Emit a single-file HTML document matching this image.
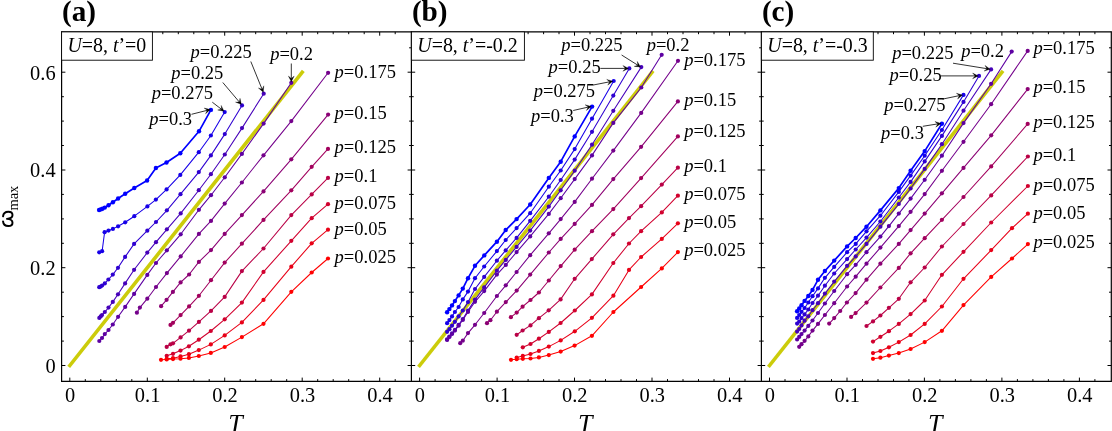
<!DOCTYPE html>
<html><head><meta charset="utf-8"><title>omega_max vs T</title>
<style>html,body{margin:0;padding:0;background:#fff}svg{display:block;will-change:transform;opacity:0.999}text{font-family:"Liberation Serif",serif;fill:#000}.i{font-style:italic}</style></head><body>
<svg width="1112" height="431" viewBox="0 0 1112 431">
<rect width="1112" height="431" fill="#fff"/>
<line x1="69.8" y1="365.5" x2="302.2" y2="72.2" stroke="#cccc0a" stroke-width="3.6" stroke-linecap="square"/>
<polyline fill="none" stroke="rgb(0,0,255)" stroke-width="1.70" stroke-linejoin="round" points="99.1,210.0 100.7,209.4 102.4,208.8 104.8,207.6 108.5,205.2 112.9,202.3 118.1,198.5 125.2,193.8 134.3,188.0 147.1,180.5 155.9,168.0 166.5,162.5 180.3,153.2 199.0,131.3 210.9,109.9"/>
<g fill="rgb(0,0,255)"><circle cx="99.1" cy="210.0" r="2.20"/><circle cx="100.7" cy="209.4" r="2.20"/><circle cx="102.4" cy="208.8" r="2.20"/><circle cx="104.8" cy="207.6" r="2.20"/><circle cx="108.5" cy="205.2" r="2.20"/><circle cx="112.9" cy="202.3" r="2.20"/><circle cx="118.1" cy="198.5" r="2.20"/><circle cx="125.2" cy="193.8" r="2.20"/><circle cx="134.3" cy="188.0" r="2.20"/><circle cx="147.1" cy="180.5" r="2.20"/><circle cx="155.9" cy="168.0" r="2.20"/><circle cx="166.5" cy="162.5" r="2.20"/><circle cx="180.3" cy="153.2" r="2.20"/><circle cx="199.0" cy="131.3" r="2.20"/><circle cx="210.9" cy="109.9" r="2.20"/></g>
<polyline fill="none" stroke="rgb(23,0,232)" stroke-width="1.05" stroke-linejoin="round" points="99.2,252.3 102.1,251.2 104.6,232.2 108.5,230.6 112.9,228.9 118.1,226.3 125.2,222.3 134.3,216.2 147.4,206.4 155.9,199.6 166.6,189.4 180.3,174.9 198.8,152.2 210.9,135.5 224.7,112.1"/>
<g fill="rgb(23,0,232)"><circle cx="99.2" cy="252.3" r="2.10"/><circle cx="102.1" cy="251.2" r="2.10"/><circle cx="104.6" cy="232.2" r="2.10"/><circle cx="108.5" cy="230.6" r="2.10"/><circle cx="112.9" cy="228.9" r="2.10"/><circle cx="118.1" cy="226.3" r="2.10"/><circle cx="125.2" cy="222.3" r="2.10"/><circle cx="134.3" cy="216.2" r="2.10"/><circle cx="147.4" cy="206.4" r="2.10"/><circle cx="155.9" cy="199.6" r="2.10"/><circle cx="166.6" cy="189.4" r="2.10"/><circle cx="180.3" cy="174.9" r="2.10"/><circle cx="198.8" cy="152.2" r="2.10"/><circle cx="210.9" cy="135.5" r="2.10"/><circle cx="224.7" cy="112.1" r="2.10"/></g>
<polyline fill="none" stroke="rgb(46,0,209)" stroke-width="1.05" stroke-linejoin="round" points="99.2,287.2 100.7,286.6 102.1,285.5 104.8,283.4 108.4,279.5 112.8,274.6 118.0,267.8 125.1,256.9 134.1,243.9 147.3,230.7 156.0,222.0 166.9,210.3 180.5,194.2 198.8,172.1 210.9,155.4 224.8,134.1 242.0,105.4"/>
<g fill="rgb(46,0,209)"><circle cx="99.2" cy="287.2" r="2.10"/><circle cx="100.7" cy="286.6" r="2.10"/><circle cx="102.1" cy="285.5" r="2.10"/><circle cx="104.8" cy="283.4" r="2.10"/><circle cx="108.4" cy="279.5" r="2.10"/><circle cx="112.8" cy="274.6" r="2.10"/><circle cx="118.0" cy="267.8" r="2.10"/><circle cx="125.1" cy="256.9" r="2.10"/><circle cx="134.1" cy="243.9" r="2.10"/><circle cx="147.3" cy="230.7" r="2.10"/><circle cx="156.0" cy="222.0" r="2.10"/><circle cx="166.9" cy="210.3" r="2.10"/><circle cx="180.5" cy="194.2" r="2.10"/><circle cx="198.8" cy="172.1" r="2.10"/><circle cx="210.9" cy="155.4" r="2.10"/><circle cx="224.8" cy="134.1" r="2.10"/><circle cx="242.0" cy="105.4" r="2.10"/></g>
<polyline fill="none" stroke="rgb(70,0,185)" stroke-width="1.05" stroke-linejoin="round" points="99.3,317.9 100.7,316.4 102.0,315.1 104.8,312.0 108.5,307.6 112.8,301.9 118.0,294.3 125.1,283.4 134.1,269.8 147.3,252.6 156.0,242.2 166.9,229.3 180.7,213.4 198.8,190.2 210.9,174.2 224.8,154.5 242.0,128.1 263.7,93.7"/>
<g fill="rgb(70,0,185)"><circle cx="99.3" cy="317.9" r="2.10"/><circle cx="100.7" cy="316.4" r="2.10"/><circle cx="102.0" cy="315.1" r="2.10"/><circle cx="104.8" cy="312.0" r="2.10"/><circle cx="108.5" cy="307.6" r="2.10"/><circle cx="112.8" cy="301.9" r="2.10"/><circle cx="118.0" cy="294.3" r="2.10"/><circle cx="125.1" cy="283.4" r="2.10"/><circle cx="134.1" cy="269.8" r="2.10"/><circle cx="147.3" cy="252.6" r="2.10"/><circle cx="156.0" cy="242.2" r="2.10"/><circle cx="166.9" cy="229.3" r="2.10"/><circle cx="180.7" cy="213.4" r="2.10"/><circle cx="198.8" cy="190.2" r="2.10"/><circle cx="210.9" cy="174.2" r="2.10"/><circle cx="224.8" cy="154.5" r="2.10"/><circle cx="242.0" cy="128.1" r="2.10"/><circle cx="263.7" cy="93.7" r="2.10"/></g>
<polyline fill="none" stroke="rgb(93,0,162)" stroke-width="1.05" stroke-linejoin="round" points="99.3,341.0 102.0,338.0 104.8,334.1 108.5,330.0 112.8,324.5 118.1,316.8 125.2,306.9 134.1,293.9 147.3,274.9 156.0,263.0 166.9,250.3 180.7,234.3 198.9,209.8 211.0,195.2 224.8,177.3 241.9,153.9 263.6,123.6 291.3,82.8"/>
<g fill="rgb(93,0,162)"><circle cx="99.3" cy="341.0" r="2.10"/><circle cx="102.0" cy="338.0" r="2.10"/><circle cx="104.8" cy="334.1" r="2.10"/><circle cx="108.5" cy="330.0" r="2.10"/><circle cx="112.8" cy="324.5" r="2.10"/><circle cx="118.1" cy="316.8" r="2.10"/><circle cx="125.2" cy="306.9" r="2.10"/><circle cx="134.1" cy="293.9" r="2.10"/><circle cx="147.3" cy="274.9" r="2.10"/><circle cx="156.0" cy="263.0" r="2.10"/><circle cx="166.9" cy="250.3" r="2.10"/><circle cx="180.7" cy="234.3" r="2.10"/><circle cx="198.9" cy="209.8" r="2.10"/><circle cx="211.0" cy="195.2" r="2.10"/><circle cx="224.8" cy="177.3" r="2.10"/><circle cx="241.9" cy="153.9" r="2.10"/><circle cx="263.6" cy="123.6" r="2.10"/><circle cx="291.3" cy="82.8" r="2.10"/></g>
<polyline fill="none" stroke="rgb(116,0,139)" stroke-width="1.05" stroke-linejoin="round" points="136.9,312.7 139.9,307.6 147.3,298.7 156.0,287.0 166.9,273.1 180.7,256.4 198.9,233.9 211.0,220.9 224.7,203.6 241.9,182.5 263.5,155.3 291.3,121.1 328.1,72.8"/>
<g fill="rgb(116,0,139)"><circle cx="136.9" cy="312.7" r="2.10"/><circle cx="139.9" cy="307.6" r="2.10"/><circle cx="147.3" cy="298.7" r="2.10"/><circle cx="156.0" cy="287.0" r="2.10"/><circle cx="166.9" cy="273.1" r="2.10"/><circle cx="180.7" cy="256.4" r="2.10"/><circle cx="198.9" cy="233.9" r="2.10"/><circle cx="211.0" cy="220.9" r="2.10"/><circle cx="224.7" cy="203.6" r="2.10"/><circle cx="241.9" cy="182.5" r="2.10"/><circle cx="263.5" cy="155.3" r="2.10"/><circle cx="291.3" cy="121.1" r="2.10"/><circle cx="328.1" cy="72.8" r="2.10"/></g>
<polyline fill="none" stroke="rgb(139,0,116)" stroke-width="1.05" stroke-linejoin="round" points="161.1,306.2 166.6,299.8 172.9,291.9 180.6,282.4 189.1,274.5 198.9,261.9 211.0,250.1 224.7,233.9 241.9,215.1 263.5,191.4 291.3,159.3 328.1,114.6"/>
<g fill="rgb(139,0,116)"><circle cx="161.1" cy="306.2" r="2.10"/><circle cx="166.6" cy="299.8" r="2.10"/><circle cx="172.9" cy="291.9" r="2.10"/><circle cx="180.6" cy="282.4" r="2.10"/><circle cx="189.1" cy="274.5" r="2.10"/><circle cx="198.9" cy="261.9" r="2.10"/><circle cx="211.0" cy="250.1" r="2.10"/><circle cx="224.7" cy="233.9" r="2.10"/><circle cx="241.9" cy="215.1" r="2.10"/><circle cx="263.5" cy="191.4" r="2.10"/><circle cx="291.3" cy="159.3" r="2.10"/><circle cx="328.1" cy="114.6" r="2.10"/></g>
<polyline fill="none" stroke="rgb(162,0,93)" stroke-width="1.05" stroke-linejoin="round" points="170.5,324.9 173.0,322.8 180.6,315.1 189.1,306.4 198.9,295.8 211.0,280.2 224.7,262.6 241.9,243.7 263.5,219.9 291.3,190.3 311.7,166.8 328.0,148.9"/>
<g fill="rgb(162,0,93)"><circle cx="170.5" cy="324.9" r="2.10"/><circle cx="173.0" cy="322.8" r="2.10"/><circle cx="180.6" cy="315.1" r="2.10"/><circle cx="189.1" cy="306.4" r="2.10"/><circle cx="198.9" cy="295.8" r="2.10"/><circle cx="211.0" cy="280.2" r="2.10"/><circle cx="224.7" cy="262.6" r="2.10"/><circle cx="241.9" cy="243.7" r="2.10"/><circle cx="263.5" cy="219.9" r="2.10"/><circle cx="291.3" cy="190.3" r="2.10"/><circle cx="311.7" cy="166.8" r="2.10"/><circle cx="328.0" cy="148.9" r="2.10"/></g>
<polyline fill="none" stroke="rgb(185,0,70)" stroke-width="1.05" stroke-linejoin="round" points="166.7,346.9 170.5,344.3 173.0,343.3 180.6,337.4 189.0,330.7 198.9,321.9 211.0,310.9 224.7,296.9 241.9,271.1 263.5,248.5 291.3,215.1 311.7,194.4 328.0,177.9"/>
<g fill="rgb(185,0,70)"><circle cx="166.7" cy="346.9" r="2.10"/><circle cx="170.5" cy="344.3" r="2.10"/><circle cx="173.0" cy="343.3" r="2.10"/><circle cx="180.6" cy="337.4" r="2.10"/><circle cx="189.0" cy="330.7" r="2.10"/><circle cx="198.9" cy="321.9" r="2.10"/><circle cx="211.0" cy="310.9" r="2.10"/><circle cx="224.7" cy="296.9" r="2.10"/><circle cx="241.9" cy="271.1" r="2.10"/><circle cx="263.5" cy="248.5" r="2.10"/><circle cx="291.3" cy="215.1" r="2.10"/><circle cx="311.7" cy="194.4" r="2.10"/><circle cx="328.0" cy="177.9" r="2.10"/></g>
<polyline fill="none" stroke="rgb(209,0,46)" stroke-width="1.05" stroke-linejoin="round" points="166.7,355.8 173.0,353.8 180.5,350.6 188.9,346.3 198.8,339.7 210.8,331.0 224.7,319.3 241.9,302.6 263.5,271.9 291.3,240.8 311.7,218.2 328.0,204.2"/>
<g fill="rgb(209,0,46)"><circle cx="166.7" cy="355.8" r="2.10"/><circle cx="173.0" cy="353.8" r="2.10"/><circle cx="180.5" cy="350.6" r="2.10"/><circle cx="188.9" cy="346.3" r="2.10"/><circle cx="198.8" cy="339.7" r="2.10"/><circle cx="210.8" cy="331.0" r="2.10"/><circle cx="224.7" cy="319.3" r="2.10"/><circle cx="241.9" cy="302.6" r="2.10"/><circle cx="263.5" cy="271.9" r="2.10"/><circle cx="291.3" cy="240.8" r="2.10"/><circle cx="311.7" cy="218.2" r="2.10"/><circle cx="328.0" cy="204.2" r="2.10"/></g>
<polyline fill="none" stroke="rgb(232,0,23)" stroke-width="1.05" stroke-linejoin="round" points="166.7,358.8 173.0,358.2 180.5,356.4 188.9,354.2 198.8,350.1 210.8,344.4 224.7,335.4 241.9,322.4 263.5,299.9 291.3,266.7 311.7,243.3 328.0,229.7"/>
<g fill="rgb(232,0,23)"><circle cx="166.7" cy="358.8" r="2.10"/><circle cx="173.0" cy="358.2" r="2.10"/><circle cx="180.5" cy="356.4" r="2.10"/><circle cx="188.9" cy="354.2" r="2.10"/><circle cx="198.8" cy="350.1" r="2.10"/><circle cx="210.8" cy="344.4" r="2.10"/><circle cx="224.7" cy="335.4" r="2.10"/><circle cx="241.9" cy="322.4" r="2.10"/><circle cx="263.5" cy="299.9" r="2.10"/><circle cx="291.3" cy="266.7" r="2.10"/><circle cx="311.7" cy="243.3" r="2.10"/><circle cx="328.0" cy="229.7" r="2.10"/></g>
<polyline fill="none" stroke="rgb(255,0,0)" stroke-width="1.05" stroke-linejoin="round" points="161.0,359.8 166.7,359.4 173.0,359.1 180.5,358.7 188.9,357.9 198.8,356.0 210.8,352.9 224.7,347.0 241.9,337.1 263.5,323.8 291.3,291.8 311.7,272.5 328.0,258.5"/>
<g fill="rgb(255,0,0)"><circle cx="161.0" cy="359.8" r="2.10"/><circle cx="166.7" cy="359.4" r="2.10"/><circle cx="173.0" cy="359.1" r="2.10"/><circle cx="180.5" cy="358.7" r="2.10"/><circle cx="188.9" cy="357.9" r="2.10"/><circle cx="198.8" cy="356.0" r="2.10"/><circle cx="210.8" cy="352.9" r="2.10"/><circle cx="224.7" cy="347.0" r="2.10"/><circle cx="241.9" cy="337.1" r="2.10"/><circle cx="263.5" cy="323.8" r="2.10"/><circle cx="291.3" cy="291.8" r="2.10"/><circle cx="311.7" cy="272.5" r="2.10"/><circle cx="328.0" cy="258.5" r="2.10"/></g>
<text x="334.6" y="77.7" font-size="18.5" text-anchor="start"><tspan class="i">p</tspan>=0.175</text>
<text x="334.6" y="119.4" font-size="18.5" text-anchor="start"><tspan class="i">p</tspan>=0.15</text>
<text x="334.6" y="153.0" font-size="18.5" text-anchor="start"><tspan class="i">p</tspan>=0.125</text>
<text x="334.6" y="182.4" font-size="18.5" text-anchor="start"><tspan class="i">p</tspan>=0.1</text>
<text x="334.6" y="208.9" font-size="18.5" text-anchor="start"><tspan class="i">p</tspan>=0.075</text>
<text x="334.6" y="234.5" font-size="18.5" text-anchor="start"><tspan class="i">p</tspan>=0.05</text>
<text x="334.6" y="262.7" font-size="18.5" text-anchor="start"><tspan class="i">p</tspan>=0.025</text>
<text x="149.3" y="125.0" font-size="18.5" text-anchor="start"><tspan class="i">p</tspan>=0.3</text>
<path d="M191.5 114.3L207.3 110.3" fill="none" stroke="#000" stroke-width="0.8"/>
<path d="M210.4 109.6L205.5 113.8L207.3 110.3L204.1 108.1Z" fill="#000" stroke="#000" stroke-width="0.3" stroke-linejoin="miter"/>
<text x="151.7" y="99.4" font-size="18.5" text-anchor="start"><tspan class="i">p</tspan>=0.275</text>
<path d="M212.3 102.2L221.5 109.3" fill="none" stroke="#000" stroke-width="0.8"/>
<path d="M224.0 111.2L217.7 110.0L221.5 109.3L221.2 105.4Z" fill="#000" stroke="#000" stroke-width="0.3" stroke-linejoin="miter"/>
<text x="171.3" y="78.6" font-size="18.5" text-anchor="start"><tspan class="i">p</tspan>=0.25</text>
<path d="M222.8 82.5L239.4 102.1" fill="none" stroke="#000" stroke-width="0.8"/>
<path d="M241.4 104.6L235.5 102.1L239.4 102.1L240.0 98.3Z" fill="#000" stroke="#000" stroke-width="0.3" stroke-linejoin="miter"/>
<text x="190.5" y="58.2" font-size="18.5" text-anchor="start"><tspan class="i">p</tspan>=0.225</text>
<path d="M250.8 61.5L262.1 89.3" fill="none" stroke="#000" stroke-width="0.8"/>
<path d="M263.3 92.2L258.4 88.0L262.1 89.3L263.8 85.8Z" fill="#000" stroke="#000" stroke-width="0.3" stroke-linejoin="miter"/>
<text x="270.2" y="59.6" font-size="18.5" text-anchor="start"><tspan class="i">p</tspan>=0.2</text>
<path d="M291.3 63.5L291.3 78.6" fill="none" stroke="#000" stroke-width="0.8"/>
<path d="M291.3 81.8L288.4 76.1L291.3 78.6L294.2 76.1Z" fill="#000" stroke="#000" stroke-width="0.3" stroke-linejoin="miter"/>
<line x1="419.6" y1="365.5" x2="652.0" y2="72.2" stroke="#cccc0a" stroke-width="3.6" stroke-linecap="square"/>
<polyline fill="none" stroke="rgb(0,0,255)" stroke-width="1.70" stroke-linejoin="round" points="447.1,312.2 449.4,309.1 452.0,305.4 454.9,301.1 458.6,295.4 462.8,288.6 468.0,278.2 475.0,265.8 484.3,255.4 496.9,241.7 505.7,230.0 516.6,219.1 530.2,204.5 548.8,177.9 560.7,161.7 574.7,136.4 592.1,106.6"/>
<g fill="rgb(0,0,255)"><circle cx="447.1" cy="312.2" r="2.20"/><circle cx="449.4" cy="309.1" r="2.20"/><circle cx="452.0" cy="305.4" r="2.20"/><circle cx="454.9" cy="301.1" r="2.20"/><circle cx="458.6" cy="295.4" r="2.20"/><circle cx="462.8" cy="288.6" r="2.20"/><circle cx="468.0" cy="278.2" r="2.20"/><circle cx="475.0" cy="265.8" r="2.20"/><circle cx="484.3" cy="255.4" r="2.20"/><circle cx="496.9" cy="241.7" r="2.20"/><circle cx="505.7" cy="230.0" r="2.20"/><circle cx="516.6" cy="219.1" r="2.20"/><circle cx="530.2" cy="204.5" r="2.20"/><circle cx="548.8" cy="177.9" r="2.20"/><circle cx="560.7" cy="161.7" r="2.20"/><circle cx="574.7" cy="136.4" r="2.20"/><circle cx="592.1" cy="106.6" r="2.20"/></g>
<polyline fill="none" stroke="rgb(23,0,232)" stroke-width="1.05" stroke-linejoin="round" points="447.1,323.2 449.4,320.1 452.0,316.4 454.9,312.0 458.6,307.0 462.8,299.4 468.0,291.6 475.0,278.2 484.2,266.5 496.9,251.1 505.7,240.0 516.6,228.1 530.2,213.2 548.8,186.7 560.7,170.5 574.7,149.1 592.0,118.7 613.7,81.0"/>
<g fill="rgb(23,0,232)"><circle cx="447.1" cy="323.2" r="2.10"/><circle cx="449.4" cy="320.1" r="2.10"/><circle cx="452.0" cy="316.4" r="2.10"/><circle cx="454.9" cy="312.0" r="2.10"/><circle cx="458.6" cy="307.0" r="2.10"/><circle cx="462.8" cy="299.4" r="2.10"/><circle cx="468.0" cy="291.6" r="2.10"/><circle cx="475.0" cy="278.2" r="2.10"/><circle cx="484.2" cy="266.5" r="2.10"/><circle cx="496.9" cy="251.1" r="2.10"/><circle cx="505.7" cy="240.0" r="2.10"/><circle cx="516.6" cy="228.1" r="2.10"/><circle cx="530.2" cy="213.2" r="2.10"/><circle cx="548.8" cy="186.7" r="2.10"/><circle cx="560.7" cy="170.5" r="2.10"/><circle cx="574.7" cy="149.1" r="2.10"/><circle cx="592.0" cy="118.7" r="2.10"/><circle cx="613.7" cy="81.0" r="2.10"/></g>
<polyline fill="none" stroke="rgb(46,0,209)" stroke-width="1.05" stroke-linejoin="round" points="447.1,331.8 449.4,329.2 452.0,325.7 454.9,321.8 458.6,316.4 462.8,310.5 468.0,302.1 475.0,289.0 484.2,276.9 496.9,260.7 505.7,250.4 516.6,237.9 530.2,220.8 548.8,196.7 560.7,180.0 574.7,159.6 592.0,131.8 613.3,95.6 629.3,68.4"/>
<g fill="rgb(46,0,209)"><circle cx="447.1" cy="331.8" r="2.10"/><circle cx="449.4" cy="329.2" r="2.10"/><circle cx="452.0" cy="325.7" r="2.10"/><circle cx="454.9" cy="321.8" r="2.10"/><circle cx="458.6" cy="316.4" r="2.10"/><circle cx="462.8" cy="310.5" r="2.10"/><circle cx="468.0" cy="302.1" r="2.10"/><circle cx="475.0" cy="289.0" r="2.10"/><circle cx="484.2" cy="276.9" r="2.10"/><circle cx="496.9" cy="260.7" r="2.10"/><circle cx="505.7" cy="250.4" r="2.10"/><circle cx="516.6" cy="237.9" r="2.10"/><circle cx="530.2" cy="220.8" r="2.10"/><circle cx="548.8" cy="196.7" r="2.10"/><circle cx="560.7" cy="180.0" r="2.10"/><circle cx="574.7" cy="159.6" r="2.10"/><circle cx="592.0" cy="131.8" r="2.10"/><circle cx="613.3" cy="95.6" r="2.10"/><circle cx="629.3" cy="68.4" r="2.10"/></g>
<polyline fill="none" stroke="rgb(70,0,185)" stroke-width="1.05" stroke-linejoin="round" points="447.1,339.4 449.4,336.5 452.0,333.4 454.9,329.9 458.6,324.9 462.8,319.0 468.0,310.6 475.0,299.6 484.2,287.4 496.9,270.7 505.8,259.9 516.6,246.9 530.2,230.6 548.8,206.6 560.7,190.3 574.7,170.7 592.0,144.7 613.3,110.8 641.3,67.1"/>
<g fill="rgb(70,0,185)"><circle cx="447.1" cy="339.4" r="2.10"/><circle cx="449.4" cy="336.5" r="2.10"/><circle cx="452.0" cy="333.4" r="2.10"/><circle cx="454.9" cy="329.9" r="2.10"/><circle cx="458.6" cy="324.9" r="2.10"/><circle cx="462.8" cy="319.0" r="2.10"/><circle cx="468.0" cy="310.6" r="2.10"/><circle cx="475.0" cy="299.6" r="2.10"/><circle cx="484.2" cy="287.4" r="2.10"/><circle cx="496.9" cy="270.7" r="2.10"/><circle cx="505.8" cy="259.9" r="2.10"/><circle cx="516.6" cy="246.9" r="2.10"/><circle cx="530.2" cy="230.6" r="2.10"/><circle cx="548.8" cy="206.6" r="2.10"/><circle cx="560.7" cy="190.3" r="2.10"/><circle cx="574.7" cy="170.7" r="2.10"/><circle cx="592.0" cy="144.7" r="2.10"/><circle cx="613.3" cy="110.8" r="2.10"/><circle cx="641.3" cy="67.1" r="2.10"/></g>
<polyline fill="none" stroke="rgb(93,0,162)" stroke-width="1.05" stroke-linejoin="round" points="447.1,339.9 449.4,337.0 452.0,334.0 454.9,330.6 458.6,325.7 462.8,320.0 468.0,312.0 475.0,301.8 484.2,291.1 496.9,274.6 505.8,264.9 516.6,252.1 530.2,236.4 548.8,213.9 560.7,198.2 574.7,179.1 592.0,155.4 613.3,122.9 641.3,87.5 661.7,54.8"/>
<g fill="rgb(93,0,162)"><circle cx="447.1" cy="339.9" r="2.10"/><circle cx="449.4" cy="337.0" r="2.10"/><circle cx="452.0" cy="334.0" r="2.10"/><circle cx="454.9" cy="330.6" r="2.10"/><circle cx="458.6" cy="325.7" r="2.10"/><circle cx="462.8" cy="320.0" r="2.10"/><circle cx="468.0" cy="312.0" r="2.10"/><circle cx="475.0" cy="301.8" r="2.10"/><circle cx="484.2" cy="291.1" r="2.10"/><circle cx="496.9" cy="274.6" r="2.10"/><circle cx="505.8" cy="264.9" r="2.10"/><circle cx="516.6" cy="252.1" r="2.10"/><circle cx="530.2" cy="236.4" r="2.10"/><circle cx="548.8" cy="213.9" r="2.10"/><circle cx="560.7" cy="198.2" r="2.10"/><circle cx="574.7" cy="179.1" r="2.10"/><circle cx="592.0" cy="155.4" r="2.10"/><circle cx="613.3" cy="122.9" r="2.10"/><circle cx="641.3" cy="87.5" r="2.10"/><circle cx="661.7" cy="54.8" r="2.10"/></g>
<polyline fill="none" stroke="rgb(116,0,139)" stroke-width="1.05" stroke-linejoin="round" points="460.2,343.2 462.8,340.7 468.0,333.1 475.0,324.8 484.2,313.0 496.9,296.0 505.8,285.3 516.6,272.0 530.2,255.2 548.8,233.3 560.7,219.1 574.7,201.9 592.0,178.7 613.3,150.6 641.2,112.9 678.0,60.8"/>
<g fill="rgb(116,0,139)"><circle cx="460.2" cy="343.2" r="2.10"/><circle cx="462.8" cy="340.7" r="2.10"/><circle cx="468.0" cy="333.1" r="2.10"/><circle cx="475.0" cy="324.8" r="2.10"/><circle cx="484.2" cy="313.0" r="2.10"/><circle cx="496.9" cy="296.0" r="2.10"/><circle cx="505.8" cy="285.3" r="2.10"/><circle cx="516.6" cy="272.0" r="2.10"/><circle cx="530.2" cy="255.2" r="2.10"/><circle cx="548.8" cy="233.3" r="2.10"/><circle cx="560.7" cy="219.1" r="2.10"/><circle cx="574.7" cy="201.9" r="2.10"/><circle cx="592.0" cy="178.7" r="2.10"/><circle cx="613.3" cy="150.6" r="2.10"/><circle cx="641.2" cy="112.9" r="2.10"/><circle cx="678.0" cy="60.8" r="2.10"/></g>
<polyline fill="none" stroke="rgb(139,0,116)" stroke-width="1.05" stroke-linejoin="round" points="487.0,323.2 490.4,320.2 496.9,311.7 505.8,302.1 516.7,290.6 530.2,274.6 548.8,252.5 560.7,238.9 574.7,223.9 592.0,204.9 613.3,179.1 641.1,146.8 677.9,101.4"/>
<g fill="rgb(139,0,116)"><circle cx="487.0" cy="323.2" r="2.10"/><circle cx="490.4" cy="320.2" r="2.10"/><circle cx="496.9" cy="311.7" r="2.10"/><circle cx="505.8" cy="302.1" r="2.10"/><circle cx="516.7" cy="290.6" r="2.10"/><circle cx="530.2" cy="274.6" r="2.10"/><circle cx="548.8" cy="252.5" r="2.10"/><circle cx="560.7" cy="238.9" r="2.10"/><circle cx="574.7" cy="223.9" r="2.10"/><circle cx="592.0" cy="204.9" r="2.10"/><circle cx="613.3" cy="179.1" r="2.10"/><circle cx="641.1" cy="146.8" r="2.10"/><circle cx="677.9" cy="101.4" r="2.10"/></g>
<polyline fill="none" stroke="rgb(162,0,93)" stroke-width="1.05" stroke-linejoin="round" points="510.9,317.2 516.7,312.6 522.6,306.7 530.5,300.0 538.9,292.5 548.8,280.5 560.7,266.1 574.7,249.7 592.0,231.2 613.3,209.1 641.1,178.1 677.9,136.4"/>
<g fill="rgb(162,0,93)"><circle cx="510.9" cy="317.2" r="2.10"/><circle cx="516.7" cy="312.6" r="2.10"/><circle cx="522.6" cy="306.7" r="2.10"/><circle cx="530.5" cy="300.0" r="2.10"/><circle cx="538.9" cy="292.5" r="2.10"/><circle cx="548.8" cy="280.5" r="2.10"/><circle cx="560.7" cy="266.1" r="2.10"/><circle cx="574.7" cy="249.7" r="2.10"/><circle cx="592.0" cy="231.2" r="2.10"/><circle cx="613.3" cy="209.1" r="2.10"/><circle cx="641.1" cy="178.1" r="2.10"/><circle cx="677.9" cy="136.4" r="2.10"/></g>
<polyline fill="none" stroke="rgb(185,0,70)" stroke-width="1.05" stroke-linejoin="round" points="516.7,334.8 522.6,330.5 530.5,325.4 538.9,318.2 548.7,310.3 560.6,299.4 574.7,278.8 591.8,259.1 613.3,234.3 629.0,218.1 641.1,206.2 661.8,184.6 677.9,167.7"/>
<g fill="rgb(185,0,70)"><circle cx="516.7" cy="334.8" r="2.10"/><circle cx="522.6" cy="330.5" r="2.10"/><circle cx="530.5" cy="325.4" r="2.10"/><circle cx="538.9" cy="318.2" r="2.10"/><circle cx="548.7" cy="310.3" r="2.10"/><circle cx="560.6" cy="299.4" r="2.10"/><circle cx="574.7" cy="278.8" r="2.10"/><circle cx="591.8" cy="259.1" r="2.10"/><circle cx="613.3" cy="234.3" r="2.10"/><circle cx="629.0" cy="218.1" r="2.10"/><circle cx="641.1" cy="206.2" r="2.10"/><circle cx="661.8" cy="184.6" r="2.10"/><circle cx="677.9" cy="167.7" r="2.10"/></g>
<polyline fill="none" stroke="rgb(209,0,46)" stroke-width="1.05" stroke-linejoin="round" points="522.8,347.3 530.5,344.0 538.9,338.7 548.8,331.9 560.6,323.0 574.8,310.5 591.9,294.4 613.3,263.0 629.0,243.5 641.1,231.2 661.8,212.4 677.9,195.7"/>
<g fill="rgb(209,0,46)"><circle cx="522.8" cy="347.3" r="2.10"/><circle cx="530.5" cy="344.0" r="2.10"/><circle cx="538.9" cy="338.7" r="2.10"/><circle cx="548.8" cy="331.9" r="2.10"/><circle cx="560.6" cy="323.0" r="2.10"/><circle cx="574.8" cy="310.5" r="2.10"/><circle cx="591.9" cy="294.4" r="2.10"/><circle cx="613.3" cy="263.0" r="2.10"/><circle cx="629.0" cy="243.5" r="2.10"/><circle cx="641.1" cy="231.2" r="2.10"/><circle cx="661.8" cy="212.4" r="2.10"/><circle cx="677.9" cy="195.7" r="2.10"/></g>
<polyline fill="none" stroke="rgb(232,0,23)" stroke-width="1.05" stroke-linejoin="round" points="516.7,357.6 522.8,355.9 530.5,354.0 538.9,350.9 548.8,346.6 560.7,340.4 574.8,331.3 591.9,317.8 613.4,295.7 629.0,269.9 641.1,257.0 661.8,238.9 677.9,223.3"/>
<g fill="rgb(232,0,23)"><circle cx="516.7" cy="357.6" r="2.10"/><circle cx="522.8" cy="355.9" r="2.10"/><circle cx="530.5" cy="354.0" r="2.10"/><circle cx="538.9" cy="350.9" r="2.10"/><circle cx="548.8" cy="346.6" r="2.10"/><circle cx="560.7" cy="340.4" r="2.10"/><circle cx="574.8" cy="331.3" r="2.10"/><circle cx="591.9" cy="317.8" r="2.10"/><circle cx="613.4" cy="295.7" r="2.10"/><circle cx="629.0" cy="269.9" r="2.10"/><circle cx="641.1" cy="257.0" r="2.10"/><circle cx="661.8" cy="238.9" r="2.10"/><circle cx="677.9" cy="223.3" r="2.10"/></g>
<polyline fill="none" stroke="rgb(255,0,0)" stroke-width="1.05" stroke-linejoin="round" points="511.0,359.8 516.7,359.2 522.8,358.8 530.5,358.5 538.9,357.4 548.8,355.1 560.7,351.6 574.6,345.6 591.9,335.8 613.4,312.0 641.1,287.0 661.8,268.4 677.9,252.1"/>
<g fill="rgb(255,0,0)"><circle cx="511.0" cy="359.8" r="2.10"/><circle cx="516.7" cy="359.2" r="2.10"/><circle cx="522.8" cy="358.8" r="2.10"/><circle cx="530.5" cy="358.5" r="2.10"/><circle cx="538.9" cy="357.4" r="2.10"/><circle cx="548.8" cy="355.1" r="2.10"/><circle cx="560.7" cy="351.6" r="2.10"/><circle cx="574.6" cy="345.6" r="2.10"/><circle cx="591.9" cy="335.8" r="2.10"/><circle cx="613.4" cy="312.0" r="2.10"/><circle cx="641.1" cy="287.0" r="2.10"/><circle cx="661.8" cy="268.4" r="2.10"/><circle cx="677.9" cy="252.1" r="2.10"/></g>
<text x="684.2" y="65.6" font-size="18.5" text-anchor="start"><tspan class="i">p</tspan>=0.175</text>
<text x="684.2" y="105.9" font-size="18.5" text-anchor="start"><tspan class="i">p</tspan>=0.15</text>
<text x="684.2" y="136.9" font-size="18.5" text-anchor="start"><tspan class="i">p</tspan>=0.125</text>
<text x="684.2" y="172.2" font-size="18.5" text-anchor="start"><tspan class="i">p</tspan>=0.1</text>
<text x="684.2" y="199.8" font-size="18.5" text-anchor="start"><tspan class="i">p</tspan>=0.075</text>
<text x="684.2" y="227.6" font-size="18.5" text-anchor="start"><tspan class="i">p</tspan>=0.05</text>
<text x="684.2" y="256.2" font-size="18.5" text-anchor="start"><tspan class="i">p</tspan>=0.025</text>
<text x="531.0" y="122.0" font-size="18.5" text-anchor="start"><tspan class="i">p</tspan>=0.3</text>
<path d="M573.2 110.5L588.2 107.1" fill="none" stroke="#000" stroke-width="0.8"/>
<path d="M591.3 106.4L586.4 110.5L588.2 107.1L585.1 104.8Z" fill="#000" stroke="#000" stroke-width="0.3" stroke-linejoin="miter"/>
<text x="533.8" y="97.4" font-size="18.5" text-anchor="start"><tspan class="i">p</tspan>=0.275</text>
<path d="M593.3 85.0L609.7 81.8" fill="none" stroke="#000" stroke-width="0.8"/>
<path d="M612.9 81.2L607.8 85.1L609.7 81.8L606.7 79.4Z" fill="#000" stroke="#000" stroke-width="0.3" stroke-linejoin="miter"/>
<text x="548.6" y="72.9" font-size="18.5" text-anchor="start"><tspan class="i">p</tspan>=0.25</text>
<path d="M600.3 68.4L625.4 68.4" fill="none" stroke="#000" stroke-width="0.8"/>
<path d="M628.6 68.4L622.9 71.3L625.4 68.4L622.9 65.5Z" fill="#000" stroke="#000" stroke-width="0.3" stroke-linejoin="miter"/>
<text x="561.3" y="50.9" font-size="18.5" text-anchor="start"><tspan class="i">p</tspan>=0.225</text>
<path d="M621.6 55.0L637.8 65.2" fill="none" stroke="#000" stroke-width="0.8"/>
<path d="M640.5 66.9L634.2 66.4L637.8 65.2L637.3 61.4Z" fill="#000" stroke="#000" stroke-width="0.3" stroke-linejoin="miter"/>
<text x="646.7" y="51.3" font-size="18.5" text-anchor="start"><tspan class="i">p</tspan>=0.2</text>
<line x1="769.5" y1="365.5" x2="1001.9" y2="72.2" stroke="#cccc0a" stroke-width="3.6" stroke-linecap="square"/>
<polyline fill="none" stroke="rgb(0,0,255)" stroke-width="1.70" stroke-linejoin="round" points="797.1,311.3 799.2,308.5 801.5,305.3 804.6,300.9 808.3,296.0 812.5,289.9 818.0,279.8 824.9,271.0 834.2,260.6 847.1,246.4 855.7,238.0 866.5,226.7 880.4,210.4 898.8,188.1 910.6,170.8 924.7,151.1 941.9,123.8"/>
<g fill="rgb(0,0,255)"><circle cx="797.1" cy="311.3" r="2.20"/><circle cx="799.2" cy="308.5" r="2.20"/><circle cx="801.5" cy="305.3" r="2.20"/><circle cx="804.6" cy="300.9" r="2.20"/><circle cx="808.3" cy="296.0" r="2.20"/><circle cx="812.5" cy="289.9" r="2.20"/><circle cx="818.0" cy="279.8" r="2.20"/><circle cx="824.9" cy="271.0" r="2.20"/><circle cx="834.2" cy="260.6" r="2.20"/><circle cx="847.1" cy="246.4" r="2.20"/><circle cx="855.7" cy="238.0" r="2.20"/><circle cx="866.5" cy="226.7" r="2.20"/><circle cx="880.4" cy="210.4" r="2.20"/><circle cx="898.8" cy="188.1" r="2.20"/><circle cx="910.6" cy="170.8" r="2.20"/><circle cx="924.7" cy="151.1" r="2.20"/><circle cx="941.9" cy="123.8" r="2.20"/></g>
<polyline fill="none" stroke="rgb(23,0,232)" stroke-width="1.05" stroke-linejoin="round" points="797.1,317.9 799.2,315.0 801.5,311.8 804.6,308.0 808.3,302.5 812.5,296.2 818.0,288.4 824.9,277.8 834.2,266.9 847.1,252.2 855.7,243.9 866.5,231.3 880.4,215.7 898.8,191.9 910.6,175.6 924.7,155.7 941.9,130.0 963.5,94.9"/>
<g fill="rgb(23,0,232)"><circle cx="797.1" cy="317.9" r="2.10"/><circle cx="799.2" cy="315.0" r="2.10"/><circle cx="801.5" cy="311.8" r="2.10"/><circle cx="804.6" cy="308.0" r="2.10"/><circle cx="808.3" cy="302.5" r="2.10"/><circle cx="812.5" cy="296.2" r="2.10"/><circle cx="818.0" cy="288.4" r="2.10"/><circle cx="824.9" cy="277.8" r="2.10"/><circle cx="834.2" cy="266.9" r="2.10"/><circle cx="847.1" cy="252.2" r="2.10"/><circle cx="855.7" cy="243.9" r="2.10"/><circle cx="866.5" cy="231.3" r="2.10"/><circle cx="880.4" cy="215.7" r="2.10"/><circle cx="898.8" cy="191.9" r="2.10"/><circle cx="910.6" cy="175.6" r="2.10"/><circle cx="924.7" cy="155.7" r="2.10"/><circle cx="941.9" cy="130.0" r="2.10"/><circle cx="963.5" cy="94.9" r="2.10"/></g>
<polyline fill="none" stroke="rgb(46,0,209)" stroke-width="1.05" stroke-linejoin="round" points="797.1,323.6 799.2,321.5 801.5,318.1 804.6,314.4 808.3,309.5 812.5,303.0 818.0,295.7 824.9,285.7 834.2,273.5 847.1,259.1 855.7,249.5 866.5,237.6 880.4,221.5 898.8,197.5 910.6,181.9 924.7,161.4 941.9,135.9 963.5,101.9 979.0,75.9"/>
<g fill="rgb(46,0,209)"><circle cx="797.1" cy="323.6" r="2.10"/><circle cx="799.2" cy="321.5" r="2.10"/><circle cx="801.5" cy="318.1" r="2.10"/><circle cx="804.6" cy="314.4" r="2.10"/><circle cx="808.3" cy="309.5" r="2.10"/><circle cx="812.5" cy="303.0" r="2.10"/><circle cx="818.0" cy="295.7" r="2.10"/><circle cx="824.9" cy="285.7" r="2.10"/><circle cx="834.2" cy="273.5" r="2.10"/><circle cx="847.1" cy="259.1" r="2.10"/><circle cx="855.7" cy="249.5" r="2.10"/><circle cx="866.5" cy="237.6" r="2.10"/><circle cx="880.4" cy="221.5" r="2.10"/><circle cx="898.8" cy="197.5" r="2.10"/><circle cx="910.6" cy="181.9" r="2.10"/><circle cx="924.7" cy="161.4" r="2.10"/><circle cx="941.9" cy="135.9" r="2.10"/><circle cx="963.5" cy="101.9" r="2.10"/><circle cx="979.0" cy="75.9" r="2.10"/></g>
<polyline fill="none" stroke="rgb(70,0,185)" stroke-width="1.05" stroke-linejoin="round" points="797.1,331.6 799.2,329.0 801.5,325.4 804.6,320.7 808.3,316.3 812.5,310.2 818.0,303.2 824.9,293.6 834.2,281.6 847.1,265.8 855.7,256.4 866.5,243.9 880.4,226.7 898.8,204.0 910.6,188.5 924.7,168.9 941.9,144.2 963.5,110.7 991.1,69.4"/>
<g fill="rgb(70,0,185)"><circle cx="797.1" cy="331.6" r="2.10"/><circle cx="799.2" cy="329.0" r="2.10"/><circle cx="801.5" cy="325.4" r="2.10"/><circle cx="804.6" cy="320.7" r="2.10"/><circle cx="808.3" cy="316.3" r="2.10"/><circle cx="812.5" cy="310.2" r="2.10"/><circle cx="818.0" cy="303.2" r="2.10"/><circle cx="824.9" cy="293.6" r="2.10"/><circle cx="834.2" cy="281.6" r="2.10"/><circle cx="847.1" cy="265.8" r="2.10"/><circle cx="855.7" cy="256.4" r="2.10"/><circle cx="866.5" cy="243.9" r="2.10"/><circle cx="880.4" cy="226.7" r="2.10"/><circle cx="898.8" cy="204.0" r="2.10"/><circle cx="910.6" cy="188.5" r="2.10"/><circle cx="924.7" cy="168.9" r="2.10"/><circle cx="941.9" cy="144.2" r="2.10"/><circle cx="963.5" cy="110.7" r="2.10"/><circle cx="991.1" cy="69.4" r="2.10"/></g>
<polyline fill="none" stroke="rgb(93,0,162)" stroke-width="1.05" stroke-linejoin="round" points="797.1,339.5 799.2,336.9 801.5,334.1 804.6,330.6 808.3,325.9 812.5,320.5 818.0,313.0 824.9,303.5 834.2,291.0 847.1,274.2 855.7,264.8 866.5,252.2 880.4,236.6 888.9,226.1 898.8,213.6 910.6,198.6 924.7,179.8 941.9,155.7 963.5,123.1 991.1,83.8 1011.7,51.6"/>
<g fill="rgb(93,0,162)"><circle cx="797.1" cy="339.5" r="2.10"/><circle cx="799.2" cy="336.9" r="2.10"/><circle cx="801.5" cy="334.1" r="2.10"/><circle cx="804.6" cy="330.6" r="2.10"/><circle cx="808.3" cy="325.9" r="2.10"/><circle cx="812.5" cy="320.5" r="2.10"/><circle cx="818.0" cy="313.0" r="2.10"/><circle cx="824.9" cy="303.5" r="2.10"/><circle cx="834.2" cy="291.0" r="2.10"/><circle cx="847.1" cy="274.2" r="2.10"/><circle cx="855.7" cy="264.8" r="2.10"/><circle cx="866.5" cy="252.2" r="2.10"/><circle cx="880.4" cy="236.6" r="2.10"/><circle cx="888.9" cy="226.1" r="2.10"/><circle cx="898.8" cy="213.6" r="2.10"/><circle cx="910.6" cy="198.6" r="2.10"/><circle cx="924.7" cy="179.8" r="2.10"/><circle cx="941.9" cy="155.7" r="2.10"/><circle cx="963.5" cy="123.1" r="2.10"/><circle cx="991.1" cy="83.8" r="2.10"/><circle cx="1011.7" cy="51.6" r="2.10"/></g>
<polyline fill="none" stroke="rgb(116,0,139)" stroke-width="1.05" stroke-linejoin="round" points="799.2,346.8 801.5,344.2 804.6,340.8 808.3,336.4 812.5,330.6 818.0,323.9 824.9,315.0 834.2,303.2 847.1,286.5 855.7,276.7 866.5,263.7 880.4,247.6 898.8,226.1 910.6,211.8 924.7,194.1 941.9,170.8 963.5,141.8 991.1,104.2 1027.7,50.9"/>
<g fill="rgb(116,0,139)"><circle cx="799.2" cy="346.8" r="2.10"/><circle cx="801.5" cy="344.2" r="2.10"/><circle cx="804.6" cy="340.8" r="2.10"/><circle cx="808.3" cy="336.4" r="2.10"/><circle cx="812.5" cy="330.6" r="2.10"/><circle cx="818.0" cy="323.9" r="2.10"/><circle cx="824.9" cy="315.0" r="2.10"/><circle cx="834.2" cy="303.2" r="2.10"/><circle cx="847.1" cy="286.5" r="2.10"/><circle cx="855.7" cy="276.7" r="2.10"/><circle cx="866.5" cy="263.7" r="2.10"/><circle cx="880.4" cy="247.6" r="2.10"/><circle cx="898.8" cy="226.1" r="2.10"/><circle cx="910.6" cy="211.8" r="2.10"/><circle cx="924.7" cy="194.1" r="2.10"/><circle cx="941.9" cy="170.8" r="2.10"/><circle cx="963.5" cy="141.8" r="2.10"/><circle cx="991.1" cy="104.2" r="2.10"/><circle cx="1027.7" cy="50.9" r="2.10"/></g>
<polyline fill="none" stroke="rgb(139,0,116)" stroke-width="1.05" stroke-linejoin="round" points="829.2,323.6 834.2,318.1 840.2,311.0 846.9,302.5 855.6,293.1 866.5,279.7 880.4,263.7 898.8,243.9 910.6,230.1 924.7,213.6 941.9,193.3 963.5,167.9 991.2,135.3 1027.7,89.1"/>
<g fill="rgb(139,0,116)"><circle cx="829.2" cy="323.6" r="2.10"/><circle cx="834.2" cy="318.1" r="2.10"/><circle cx="840.2" cy="311.0" r="2.10"/><circle cx="846.9" cy="302.5" r="2.10"/><circle cx="855.6" cy="293.1" r="2.10"/><circle cx="866.5" cy="279.7" r="2.10"/><circle cx="880.4" cy="263.7" r="2.10"/><circle cx="898.8" cy="243.9" r="2.10"/><circle cx="910.6" cy="230.1" r="2.10"/><circle cx="924.7" cy="213.6" r="2.10"/><circle cx="941.9" cy="193.3" r="2.10"/><circle cx="963.5" cy="167.9" r="2.10"/><circle cx="991.2" cy="135.3" r="2.10"/><circle cx="1027.7" cy="89.1" r="2.10"/></g>
<polyline fill="none" stroke="rgb(162,0,93)" stroke-width="1.05" stroke-linejoin="round" points="851.1,316.9 855.6,313.1 866.5,302.6 880.4,287.5 898.8,267.9 910.6,253.3 924.7,238.2 941.9,219.8 963.5,197.0 991.2,166.4 1027.7,123.9"/>
<g fill="rgb(162,0,93)"><circle cx="851.1" cy="316.9" r="2.10"/><circle cx="855.6" cy="313.1" r="2.10"/><circle cx="866.5" cy="302.6" r="2.10"/><circle cx="880.4" cy="287.5" r="2.10"/><circle cx="898.8" cy="267.9" r="2.10"/><circle cx="910.6" cy="253.3" r="2.10"/><circle cx="924.7" cy="238.2" r="2.10"/><circle cx="941.9" cy="219.8" r="2.10"/><circle cx="963.5" cy="197.0" r="2.10"/><circle cx="991.2" cy="166.4" r="2.10"/><circle cx="1027.7" cy="123.9" r="2.10"/></g>
<polyline fill="none" stroke="rgb(185,0,70)" stroke-width="1.05" stroke-linejoin="round" points="866.5,326.0 873.0,321.4 880.4,315.5 888.9,307.8 898.8,298.8 910.6,282.3 924.7,267.5 941.9,246.5 963.5,224.0 991.2,195.4 1027.9,156.5"/>
<g fill="rgb(185,0,70)"><circle cx="866.5" cy="326.0" r="2.10"/><circle cx="873.0" cy="321.4" r="2.10"/><circle cx="880.4" cy="315.5" r="2.10"/><circle cx="888.9" cy="307.8" r="2.10"/><circle cx="898.8" cy="298.8" r="2.10"/><circle cx="910.6" cy="282.3" r="2.10"/><circle cx="924.7" cy="267.5" r="2.10"/><circle cx="941.9" cy="246.5" r="2.10"/><circle cx="963.5" cy="224.0" r="2.10"/><circle cx="991.2" cy="195.4" r="2.10"/><circle cx="1027.9" cy="156.5" r="2.10"/></g>
<polyline fill="none" stroke="rgb(209,0,46)" stroke-width="1.05" stroke-linejoin="round" points="873.0,341.6 880.4,336.8 888.9,331.2 898.8,323.9 910.6,314.1 924.7,300.5 941.9,274.8 963.5,251.8 991.2,222.5 1027.9,186.0"/>
<g fill="rgb(209,0,46)"><circle cx="873.0" cy="341.6" r="2.10"/><circle cx="880.4" cy="336.8" r="2.10"/><circle cx="888.9" cy="331.2" r="2.10"/><circle cx="898.8" cy="323.9" r="2.10"/><circle cx="910.6" cy="314.1" r="2.10"/><circle cx="924.7" cy="300.5" r="2.10"/><circle cx="941.9" cy="274.8" r="2.10"/><circle cx="963.5" cy="251.8" r="2.10"/><circle cx="991.2" cy="222.5" r="2.10"/><circle cx="1027.9" cy="186.0" r="2.10"/></g>
<polyline fill="none" stroke="rgb(232,0,23)" stroke-width="1.05" stroke-linejoin="round" points="873.0,353.1 880.4,351.0 888.9,347.3 898.8,342.1 910.6,335.0 924.7,323.9 941.9,306.5 963.5,278.8 991.2,250.1 1012.0,228.2 1027.9,213.7"/>
<g fill="rgb(232,0,23)"><circle cx="873.0" cy="353.1" r="2.10"/><circle cx="880.4" cy="351.0" r="2.10"/><circle cx="888.9" cy="347.3" r="2.10"/><circle cx="898.8" cy="342.1" r="2.10"/><circle cx="910.6" cy="335.0" r="2.10"/><circle cx="924.7" cy="323.9" r="2.10"/><circle cx="941.9" cy="306.5" r="2.10"/><circle cx="963.5" cy="278.8" r="2.10"/><circle cx="991.2" cy="250.1" r="2.10"/><circle cx="1012.0" cy="228.2" r="2.10"/><circle cx="1027.9" cy="213.7" r="2.10"/></g>
<polyline fill="none" stroke="rgb(255,0,0)" stroke-width="1.05" stroke-linejoin="round" points="873.0,358.8 880.4,357.7 888.9,355.6 898.8,353.1 910.6,349.0 924.7,342.1 941.9,330.8 963.5,305.1 991.2,276.9 1012.0,258.5 1027.9,244.1"/>
<g fill="rgb(255,0,0)"><circle cx="873.0" cy="358.8" r="2.10"/><circle cx="880.4" cy="357.7" r="2.10"/><circle cx="888.9" cy="355.6" r="2.10"/><circle cx="898.8" cy="353.1" r="2.10"/><circle cx="910.6" cy="349.0" r="2.10"/><circle cx="924.7" cy="342.1" r="2.10"/><circle cx="941.9" cy="330.8" r="2.10"/><circle cx="963.5" cy="305.1" r="2.10"/><circle cx="991.2" cy="276.9" r="2.10"/><circle cx="1012.0" cy="258.5" r="2.10"/><circle cx="1027.9" cy="244.1" r="2.10"/></g>
<text x="1033.4" y="54.4" font-size="18.5" text-anchor="start"><tspan class="i">p</tspan>=0.175</text>
<text x="1033.4" y="92.6" font-size="18.5" text-anchor="start"><tspan class="i">p</tspan>=0.15</text>
<text x="1033.4" y="128.2" font-size="18.5" text-anchor="start"><tspan class="i">p</tspan>=0.125</text>
<text x="1033.4" y="160.5" font-size="18.5" text-anchor="start"><tspan class="i">p</tspan>=0.1</text>
<text x="1033.4" y="190.9" font-size="18.5" text-anchor="start"><tspan class="i">p</tspan>=0.075</text>
<text x="1033.4" y="218.6" font-size="18.5" text-anchor="start"><tspan class="i">p</tspan>=0.05</text>
<text x="1033.4" y="248.3" font-size="18.5" text-anchor="start"><tspan class="i">p</tspan>=0.025</text>
<text x="881.1" y="139.3" font-size="18.5" text-anchor="start"><tspan class="i">p</tspan>=0.3</text>
<path d="M922.8 126.3L937.8 123.9" fill="none" stroke="#000" stroke-width="0.8"/>
<path d="M941.0 123.4L935.8 127.2L937.8 123.9L934.9 121.5Z" fill="#000" stroke="#000" stroke-width="0.3" stroke-linejoin="miter"/>
<text x="884.2" y="110.9" font-size="18.5" text-anchor="start"><tspan class="i">p</tspan>=0.275</text>
<path d="M942.6 99.1L959.4 95.6" fill="none" stroke="#000" stroke-width="0.8"/>
<path d="M962.6 95.0L957.6 99.0L959.4 95.6L956.4 93.3Z" fill="#000" stroke="#000" stroke-width="0.3" stroke-linejoin="miter"/>
<text x="889.6" y="80.5" font-size="18.5" text-anchor="start"><tspan class="i">p</tspan>=0.25</text>
<path d="M940.8 75.9L975.1 75.9" fill="none" stroke="#000" stroke-width="0.8"/>
<path d="M978.3 75.9L972.6 78.8L975.1 75.9L972.6 73.0Z" fill="#000" stroke="#000" stroke-width="0.3" stroke-linejoin="miter"/>
<text x="892.2" y="59.4" font-size="18.5" text-anchor="start"><tspan class="i">p</tspan>=0.225</text>
<path d="M953.0 63.2L987.0 68.7" fill="none" stroke="#000" stroke-width="0.8"/>
<path d="M990.2 69.2L984.1 71.1L987.0 68.7L985.0 65.4Z" fill="#000" stroke="#000" stroke-width="0.3" stroke-linejoin="miter"/>
<text x="961.2" y="56.5" font-size="18.5" text-anchor="start"><tspan class="i">p</tspan>=0.2</text>
<path d="M69.8 381.4L69.8 377.6M69.8 31.9L69.8 35.7M85.3 381.4L85.3 379.1M85.3 31.9L85.3 34.2M100.8 381.4L100.8 379.1M100.8 31.9L100.8 34.2M116.3 381.4L116.3 379.1M116.3 31.9L116.3 34.2M131.8 381.4L131.8 379.1M131.8 31.9L131.8 34.2M147.3 381.4L147.3 377.6M147.3 31.9L147.3 35.7M162.8 381.4L162.8 379.1M162.8 31.9L162.8 34.2M178.3 381.4L178.3 379.1M178.3 31.9L178.3 34.2M193.8 381.4L193.8 379.1M193.8 31.9L193.8 34.2M209.2 381.4L209.2 379.1M209.2 31.9L209.2 34.2M224.7 381.4L224.7 377.6M224.7 31.9L224.7 35.7M240.2 381.4L240.2 379.1M240.2 31.9L240.2 34.2M255.7 381.4L255.7 379.1M255.7 31.9L255.7 34.2M271.2 381.4L271.2 379.1M271.2 31.9L271.2 34.2M286.7 381.4L286.7 379.1M286.7 31.9L286.7 34.2M302.2 381.4L302.2 377.6M302.2 31.9L302.2 35.7M317.7 381.4L317.7 379.1M317.7 31.9L317.7 34.2M333.2 381.4L333.2 379.1M333.2 31.9L333.2 34.2M348.7 381.4L348.7 379.1M348.7 31.9L348.7 34.2M364.2 381.4L364.2 379.1M364.2 31.9L364.2 34.2M379.7 381.4L379.7 377.6M379.7 31.9L379.7 35.7M395.2 381.4L395.2 379.1M395.2 31.9L395.2 34.2M61.6 365.5L65.4 365.5M411.4 365.5L407.6 365.5M61.6 341.1L63.9 341.1M411.4 341.1L409.1 341.1M61.6 316.6L63.9 316.6M411.4 316.6L409.1 316.6M61.6 292.2L63.9 292.2M411.4 292.2L409.1 292.2M61.6 267.7L65.4 267.7M411.4 267.7L407.6 267.7M61.6 243.3L63.9 243.3M411.4 243.3L409.1 243.3M61.6 218.9L63.9 218.9M411.4 218.9L409.1 218.9M61.6 194.4L63.9 194.4M411.4 194.4L409.1 194.4M61.6 170.0L65.4 170.0M411.4 170.0L407.6 170.0M61.6 145.5L63.9 145.5M411.4 145.5L409.1 145.5M61.6 121.1L63.9 121.1M411.4 121.1L409.1 121.1M61.6 96.7L63.9 96.7M411.4 96.7L409.1 96.7M61.6 72.2L65.4 72.2M411.4 72.2L407.6 72.2M61.6 47.8L63.9 47.8M411.4 47.8L409.1 47.8M419.6 381.4L419.6 377.6M419.6 31.9L419.6 35.7M435.1 381.4L435.1 379.1M435.1 31.9L435.1 34.2M450.6 381.4L450.6 379.1M450.6 31.9L450.6 34.2M466.1 381.4L466.1 379.1M466.1 31.9L466.1 34.2M481.6 381.4L481.6 379.1M481.6 31.9L481.6 34.2M497.1 381.4L497.1 377.6M497.1 31.9L497.1 35.7M512.6 381.4L512.6 379.1M512.6 31.9L512.6 34.2M528.1 381.4L528.1 379.1M528.1 31.9L528.1 34.2M543.6 381.4L543.6 379.1M543.6 31.9L543.6 34.2M559.0 381.4L559.0 379.1M559.0 31.9L559.0 34.2M574.5 381.4L574.5 377.6M574.5 31.9L574.5 35.7M590.0 381.4L590.0 379.1M590.0 31.9L590.0 34.2M605.5 381.4L605.5 379.1M605.5 31.9L605.5 34.2M621.0 381.4L621.0 379.1M621.0 31.9L621.0 34.2M636.5 381.4L636.5 379.1M636.5 31.9L636.5 34.2M652.0 381.4L652.0 377.6M652.0 31.9L652.0 35.7M667.5 381.4L667.5 379.1M667.5 31.9L667.5 34.2M683.0 381.4L683.0 379.1M683.0 31.9L683.0 34.2M698.5 381.4L698.5 379.1M698.5 31.9L698.5 34.2M714.0 381.4L714.0 379.1M714.0 31.9L714.0 34.2M729.5 381.4L729.5 377.6M729.5 31.9L729.5 35.7M745.0 381.4L745.0 379.1M745.0 31.9L745.0 34.2M411.4 365.5L415.2 365.5M761.4 365.5L757.6 365.5M411.4 341.1L413.7 341.1M761.4 341.1L759.1 341.1M411.4 316.6L413.7 316.6M761.4 316.6L759.1 316.6M411.4 292.2L413.7 292.2M761.4 292.2L759.1 292.2M411.4 267.7L415.2 267.7M761.4 267.7L757.6 267.7M411.4 243.3L413.7 243.3M761.4 243.3L759.1 243.3M411.4 218.9L413.7 218.9M761.4 218.9L759.1 218.9M411.4 194.4L413.7 194.4M761.4 194.4L759.1 194.4M411.4 170.0L415.2 170.0M761.4 170.0L757.6 170.0M411.4 145.5L413.7 145.5M761.4 145.5L759.1 145.5M411.4 121.1L413.7 121.1M761.4 121.1L759.1 121.1M411.4 96.7L413.7 96.7M761.4 96.7L759.1 96.7M411.4 72.2L415.2 72.2M761.4 72.2L757.6 72.2M411.4 47.8L413.7 47.8M761.4 47.8L759.1 47.8M769.5 381.4L769.5 377.6M769.5 31.9L769.5 35.7M785.0 381.4L785.0 379.1M785.0 31.9L785.0 34.2M800.5 381.4L800.5 379.1M800.5 31.9L800.5 34.2M816.0 381.4L816.0 379.1M816.0 31.9L816.0 34.2M831.5 381.4L831.5 379.1M831.5 31.9L831.5 34.2M847.0 381.4L847.0 377.6M847.0 31.9L847.0 35.7M862.5 381.4L862.5 379.1M862.5 31.9L862.5 34.2M878.0 381.4L878.0 379.1M878.0 31.9L878.0 34.2M893.5 381.4L893.5 379.1M893.5 31.9L893.5 34.2M908.9 381.4L908.9 379.1M908.9 31.9L908.9 34.2M924.4 381.4L924.4 377.6M924.4 31.9L924.4 35.7M939.9 381.4L939.9 379.1M939.9 31.9L939.9 34.2M955.4 381.4L955.4 379.1M955.4 31.9L955.4 34.2M970.9 381.4L970.9 379.1M970.9 31.9L970.9 34.2M986.4 381.4L986.4 379.1M986.4 31.9L986.4 34.2M1001.9 381.4L1001.9 377.6M1001.9 31.9L1001.9 35.7M1017.4 381.4L1017.4 379.1M1017.4 31.9L1017.4 34.2M1032.9 381.4L1032.9 379.1M1032.9 31.9L1032.9 34.2M1048.4 381.4L1048.4 379.1M1048.4 31.9L1048.4 34.2M1063.9 381.4L1063.9 379.1M1063.9 31.9L1063.9 34.2M1079.4 381.4L1079.4 377.6M1079.4 31.9L1079.4 35.7M1094.9 381.4L1094.9 379.1M1094.9 31.9L1094.9 34.2M761.4 365.5L765.2 365.5M1111.3 365.5L1107.5 365.5M761.4 341.1L763.7 341.1M1111.3 341.1L1109.0 341.1M761.4 316.6L763.7 316.6M1111.3 316.6L1109.0 316.6M761.4 292.2L763.7 292.2M1111.3 292.2L1109.0 292.2M761.4 267.7L765.2 267.7M1111.3 267.7L1107.5 267.7M761.4 243.3L763.7 243.3M1111.3 243.3L1109.0 243.3M761.4 218.9L763.7 218.9M1111.3 218.9L1109.0 218.9M761.4 194.4L763.7 194.4M1111.3 194.4L1109.0 194.4M761.4 170.0L765.2 170.0M1111.3 170.0L1107.5 170.0M761.4 145.5L763.7 145.5M1111.3 145.5L1109.0 145.5M761.4 121.1L763.7 121.1M1111.3 121.1L1109.0 121.1M761.4 96.7L763.7 96.7M1111.3 96.7L1109.0 96.7M761.4 72.2L765.2 72.2M1111.3 72.2L1107.5 72.2M761.4 47.8L763.7 47.8M1111.3 47.8L1109.0 47.8" stroke="#000" stroke-width="1.0" fill="none"/>
<line x1="61.6" y1="31.3" x2="61.6" y2="382.0" stroke="#000" stroke-width="1.2"/>
<line x1="411.4" y1="31.3" x2="411.4" y2="382.0" stroke="#000" stroke-width="1.2"/>
<line x1="761.4" y1="31.3" x2="761.4" y2="382.0" stroke="#000" stroke-width="1.2"/>
<line x1="1111.3" y1="31.3" x2="1111.3" y2="382.0" stroke="#000" stroke-width="1.2"/>
<line x1="61.6" y1="31.9" x2="1111.3" y2="31.9" stroke="#000" stroke-width="1.2"/>
<line x1="61.6" y1="381.4" x2="1111.3" y2="381.4" stroke="#000" stroke-width="1.2"/>
<rect x="61.6" y="31.9" width="90.8" height="28.3" fill="#fff" stroke="#000" stroke-width="0.9"/>
<text x="67.4" y="51.7" font-size="19.9"><tspan class="i">U</tspan>=8, <tspan class="i">t</tspan>’=0</text>
<text x="62.0" y="20.8" font-size="29.2" font-weight="bold">(a)</text>
<text x="70.1" y="402.4" font-size="20.4" text-anchor="middle">0</text>
<text x="147.6" y="402.4" font-size="20.4" text-anchor="middle">0.1</text>
<text x="225.0" y="402.4" font-size="20.4" text-anchor="middle">0.2</text>
<text x="302.5" y="402.4" font-size="20.4" text-anchor="middle">0.3</text>
<text x="380.0" y="402.4" font-size="20.4" text-anchor="middle">0.4</text>
<text x="235.4" y="431.5" font-size="26" text-anchor="middle" class="i">T</text>
<rect x="411.4" y="31.9" width="113.0" height="28.3" fill="#fff" stroke="#000" stroke-width="0.9"/>
<text x="417.3" y="51.7" font-size="19.9"><tspan class="i">U</tspan>=8, <tspan class="i">t</tspan>’=-0.2</text>
<text x="411.9" y="20.8" font-size="29.2" font-weight="bold">(b)</text>
<text x="419.9" y="402.4" font-size="20.4" text-anchor="middle">0</text>
<text x="497.4" y="402.4" font-size="20.4" text-anchor="middle">0.1</text>
<text x="574.8" y="402.4" font-size="20.4" text-anchor="middle">0.2</text>
<text x="652.3" y="402.4" font-size="20.4" text-anchor="middle">0.3</text>
<text x="729.8" y="402.4" font-size="20.4" text-anchor="middle">0.4</text>
<text x="585.3" y="431.5" font-size="26" text-anchor="middle" class="i">T</text>
<rect x="761.4" y="31.9" width="111.9" height="28.3" fill="#fff" stroke="#000" stroke-width="0.9"/>
<text x="767.3" y="51.7" font-size="19.9"><tspan class="i">U</tspan>=8, <tspan class="i">t</tspan>’=-0.3</text>
<text x="761.9" y="20.8" font-size="29.2" font-weight="bold">(c)</text>
<text x="769.8" y="402.4" font-size="20.4" text-anchor="middle">0</text>
<text x="847.3" y="402.4" font-size="20.4" text-anchor="middle">0.1</text>
<text x="924.7" y="402.4" font-size="20.4" text-anchor="middle">0.2</text>
<text x="1002.2" y="402.4" font-size="20.4" text-anchor="middle">0.3</text>
<text x="1079.7" y="402.4" font-size="20.4" text-anchor="middle">0.4</text>
<text x="935.2" y="431.5" font-size="26" text-anchor="middle" class="i">T</text>
<text x="55.6" y="372.8" font-size="20.4" text-anchor="end">0</text>
<text x="55.6" y="275.0" font-size="20.4" text-anchor="end">0.2</text>
<text x="55.6" y="177.3" font-size="20.4" text-anchor="end">0.4</text>
<text x="55.6" y="79.5" font-size="20.4" text-anchor="end">0.6</text>
<g transform="translate(13.35,227.0) rotate(-90)"><path d="M5.6 -10.3C2.4 -10.0 0.95 -7.5 0.95 -5.0C0.95 -2.3 2.3 -0.85 4.3 -0.85C6.6 -0.85 7.9 -2.6 8.15 -6.4C8.4 -2.6 9.7 -0.85 12.0 -0.85C14.0 -0.85 15.35 -2.3 15.35 -5.0C15.35 -7.5 13.9 -10.0 10.7 -10.3" fill="none" stroke="#000" stroke-width="1.95" stroke-linecap="round" stroke-linejoin="round"/><text x="16.4" y="4.3" font-size="14.5">max</text></g>
</svg></body></html>
